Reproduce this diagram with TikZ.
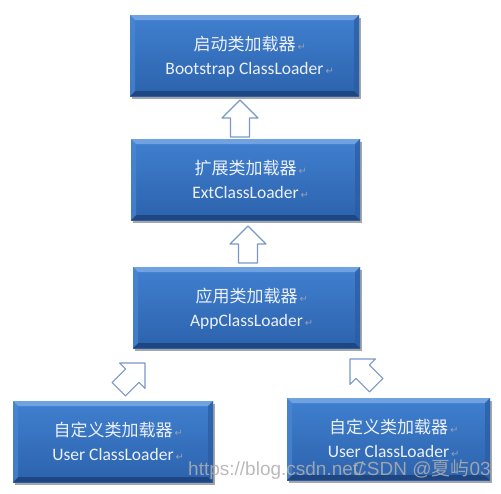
\documentclass[tikz,border=0pt]{standalone}
\usepackage{fontspec}
\setmainfont{Carlito}
\newfontfamily\cjk{Noto Sans CJK SC}
\newfontfamily\dejavu{DejaVu Sans}
\newfontfamily\wmfont{Liberation Sans}
\usetikzlibrary{shadows}
\definecolor{facetop}{RGB}{64,128,208}
\definecolor{facebot}{RGB}{44,98,172}
\definecolor{bevtop}{RGB}{112,162,226}
\definecolor{bevleft}{RGB}{74,136,210}
\definecolor{bevright}{RGB}{42,92,162}
\definecolor{bevbot}{RGB}{30,70,130}
\definecolor{txtc}{RGB}{236,241,249}
\definecolor{retc}{RGB}{150,160,180}
\definecolor{arrowc}{RGB}{120,152,200}
\definecolor{wmc}{RGB}{175,175,175}
\newcommand{\retmark}{\rlap{\hspace{2pt}{\dejavu\fontsize{10pt}{10pt}\selectfont\color{retc}↵}}}
\tikzset{
  loader/.style={rectangle, inner sep=0pt, top color=facetop, bottom color=facebot, draw=none,
    drop shadow={shadow xshift=1.5pt, shadow yshift=-2.5pt, opacity=.35, fill=black},
    path picture={
      \fill[bevtop] (path picture bounding box.north west) -- (path picture bounding box.north east)
        -- ([shift={(-5pt,-5pt)}]path picture bounding box.north east) -- ([shift={(5pt,-5pt)}]path picture bounding box.north west) -- cycle;
      \fill[bevbot] (path picture bounding box.south west) -- (path picture bounding box.south east)
        -- ([shift={(-5pt,5pt)}]path picture bounding box.south east) -- ([shift={(5pt,5pt)}]path picture bounding box.south west) -- cycle;
      \fill[bevleft, opacity=.7] (path picture bounding box.north west) -- (path picture bounding box.south west)
        -- ([shift={(5pt,5pt)}]path picture bounding box.south west) -- ([shift={(5pt,-5pt)}]path picture bounding box.north west) -- cycle;
      \fill[bevright, opacity=.7] (path picture bounding box.north east) -- (path picture bounding box.south east)
        -- ([shift={(-5pt,5pt)}]path picture bounding box.south east) -- ([shift={(-5pt,-5pt)}]path picture bounding box.north east) -- cycle;
    }},
  cn/.style={anchor=base, inner sep=0pt, text=txtc, font=\cjk\fontsize{17pt}{20pt}\selectfont},
  en/.style={anchor=base, inner sep=0pt, text=txtc, font=\fontsize{17.5pt}{20pt}\selectfont},
  arrowline/.style={draw=arrowc, fill=white, line width=1.1pt, line join=round},
  blockarrow/.pic={\path[arrowline] (0,0) -- (18,18) -- (9.5,18) -- (9.5,37) -- (-9.5,37) -- (-9.5,18) -- (-18,18) -- cycle;},
  wm/.style={anchor=base west, inner sep=0pt, text=wmc, opacity=.85, font=\wmfont\fontsize{19pt}{22pt}\selectfont}
}
\begin{document}
\begin{tikzpicture}[x=1pt,y=-1pt]
\useasboundingbox[fill=white] (0,0) rectangle (501,493);
% boxes
\node[loader, minimum width=229pt, minimum height=81pt] (b1) at (244.5,55.5) {};
\node[loader, minimum width=229pt, minimum height=81pt] (b2) at (245.5,179.5) {};
\node[loader, minimum width=227pt, minimum height=81pt] (b3) at (246.5,307.5) {};
\node[loader, minimum width=200pt, minimum height=81pt] (b4) at (113,441.5) {};
\node[loader, minimum width=203pt, minimum height=82pt] (b5) at (388.5,439) {};
% texts
\node[cn] (b1cn) at ([yshift=5.5pt]b1.center) {启动类加载器\retmark};
\node[en] (b1en) at ([yshift=-19pt]b1.center) {Bootstrap ClassLoader\retmark};
\node[cn] (b2cn) at ([yshift=5.5pt]b2.center) {扩展类加载器\retmark};
\node[en] (b2en) at ([yshift=-18.5pt]b2.center) {ExtClassLoader\retmark};
\node[cn] (b3cn) at ([yshift=5.5pt]b3.center) {应用类加载器\retmark};
\node[en] (b3en) at ([yshift=-18.5pt]b3.center) {AppClassLoader\retmark};
\node[cn] (b4cn) at ([yshift=5.5pt]b4.center) {自定义类加载器\retmark};
\node[en] (b4en) at ([yshift=-18.5pt]b4.center) {User ClassLoader\retmark};
\node[cn] (b5cn) at ([yshift=6pt]b5.center) {自定义类加载器\retmark};
\node[en] (b5en) at ([yshift=-18pt]b5.center) {User ClassLoader\retmark};
% arrows
\coordinate (a1) at (240,100);
\coordinate (a2) at (248,226);
\coordinate (a3) at (145,363);
\coordinate (a4) at (350,359);
\pic at (a1) {blockarrow};
\pic at (a2) {blockarrow};
\pic[rotate=-45] at (a3) {blockarrow};
\pic[rotate=45] at (a4) {blockarrow};
% watermark
\node[wm] (wm1) at (188,475) {https://blog.csdn.net/};
\node[wm] (wm2) at (353,475) {CSDN @{\cjk 夏屿}03};
\end{tikzpicture}
\end{document}
